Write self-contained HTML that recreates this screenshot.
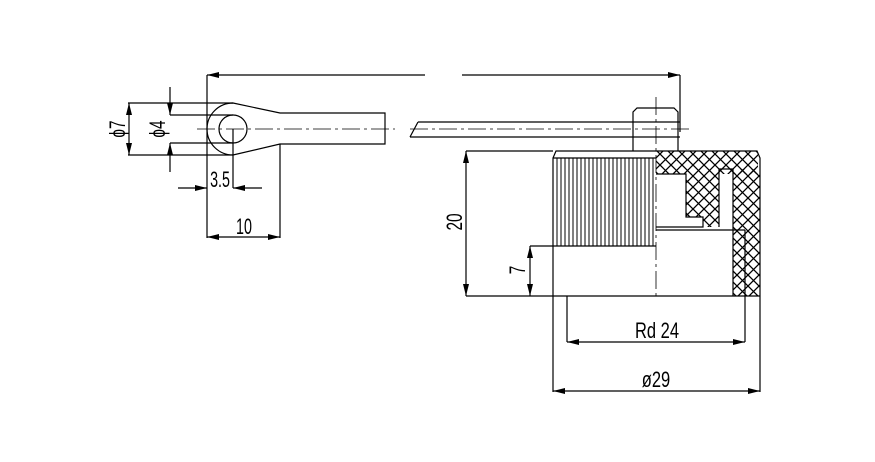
<!DOCTYPE html>
<html><head><meta charset="utf-8"><style>
html,body{margin:0;padding:0;background:#fff}
svg{display:block}
text{font-family:"Liberation Sans",sans-serif;font-size:22px;fill:#000}
</style></head><body>
<svg width="875" height="462" viewBox="0 0 875 462" xmlns="http://www.w3.org/2000/svg">
<defs>
<pattern id="h" width="11" height="11" patternUnits="userSpaceOnUse">
<path d="M0,0L11,11M11,0L0,11" stroke="#000" stroke-width="1.3"/>
</pattern>
<marker id="a" viewBox="0 0 12 6" refX="12" refY="3" markerWidth="12" markerHeight="6" orient="auto-start-reverse" markerUnits="userSpaceOnUse"><path d="M0,0L12,3L0,6z" fill="#000"/></marker>
</defs>
<g stroke="#000" stroke-width="1.2" fill="none">
<line x1="207" y1="75" x2="425" y2="75" marker-start="url(#a)"/>
<line x1="462" y1="75" x2="680" y2="75" marker-end="url(#a)"/>
<line x1="207" y1="75" x2="207" y2="238"/>
<line x1="680" y1="75" x2="680" y2="132"/>
<line x1="197" y1="129" x2="395" y2="129" stroke-dasharray="18,4,3,4" stroke-width="0.8"/>
<line x1="410" y1="129" x2="690" y2="129" stroke-dasharray="18,4,3,4" stroke-width="0.8"/>
<line x1="656" y1="97" x2="656" y2="300" stroke-dasharray="18,4,3,4" stroke-width="0.8"/>
<path d="M233,103 L280,113 L385,113 L385,144 L280,144 L233,155 A26,26 0 0 1 233,103 Z"/>
<circle cx="233" cy="129" r="14"/>
<line x1="233" y1="129" x2="233" y2="188"/>
<line x1="280" y1="144" x2="280" y2="238"/>
<line x1="128" y1="103" x2="233" y2="103"/>
<line x1="128" y1="155" x2="233" y2="155"/>
<line x1="129" y1="103" x2="129" y2="155" marker-start="url(#a)" marker-end="url(#a)"/>
<line x1="170" y1="115" x2="233" y2="115"/>
<line x1="170" y1="143" x2="233" y2="143"/>
<line x1="170" y1="87" x2="170" y2="115" marker-end="url(#a)"/>
<line x1="170" y1="172" x2="170" y2="143" marker-end="url(#a)"/>
<line x1="178" y1="188" x2="207" y2="188" marker-end="url(#a)"/>
<line x1="262" y1="188" x2="233" y2="188" marker-end="url(#a)"/>
<line x1="207" y1="237" x2="280" y2="237" marker-start="url(#a)" marker-end="url(#a)"/>
<path d="M418,122 L680,122 M410,137 L680,137 M418,122 L410,137"/>
<path d="M633,151 L633,112 L637,108 L674,108 L678,112 L678,151"/>
<rect x="656" y="151" width="102" height="23" fill="url(#h)" stroke="none"/>
<path d="M686,174 L719,174 L719,227 L703,227 L703,217 L686,217 Z" fill="url(#h)" stroke="none"/>
<rect x="733" y="169" width="27" height="127" fill="url(#h)" stroke="none"/>
<path d="M656,151 L757,151 L760,158 L760,296"/>
<path d="M656,174 L686,174 L686,217 L703,217 L703,227 L656,227"/>
<path d="M719,227 L719,169 L733,169 L733,296"/>
<line x1="656" y1="230" x2="745" y2="230"/>
<path d="M553,296 L553,158 L556,151 L656,151"/>
<line x1="553" y1="158" x2="656" y2="158"/>
<line x1="553" y1="246" x2="656" y2="246"/>
<line x1="466" y1="296" x2="760" y2="296"/>
<line x1="466" y1="151" x2="553" y2="151"/>
<line x1="530" y1="246" x2="553" y2="246"/>
<line x1="745" y1="230" x2="745" y2="342"/>
<line x1="567" y1="296" x2="567" y2="342"/>
<line x1="553" y1="296" x2="553" y2="392"/>
<line x1="760" y1="296" x2="760" y2="392"/>
<line x1="466" y1="151" x2="466" y2="296" marker-start="url(#a)" marker-end="url(#a)"/>
<line x1="530" y1="246" x2="530" y2="296" marker-start="url(#a)" marker-end="url(#a)"/>
<line x1="567" y1="342" x2="745" y2="342" marker-start="url(#a)" marker-end="url(#a)"/>
<line x1="553" y1="391" x2="760" y2="391" marker-start="url(#a)" marker-end="url(#a)"/>
</g>
<g stroke="#000" stroke-width="1">
<path d="M557,158V246M561,158V246M565,158V246M569,158V246M573,158V246M577,158V246M581,158V246M585,158V246M589,158V246M593,158V246M597,158V246M601,158V246M605,158V246M609,158V246M613,158V246M617,158V246M621,158V246M625,158V246M629,158V246M633,158V246M637,158V246M641,158V246M645,158V246M649,158V246M653,158V246"/>
</g>
<g>
<text transform="translate(125,129) rotate(-90) scale(0.7,1)" text-anchor="middle">ϕ7</text>
<text transform="translate(165,129) rotate(-90) scale(0.7,1)" text-anchor="middle">ϕ4</text>
<text transform="translate(220,187) scale(0.65,1)" text-anchor="middle">3.5</text>
<text transform="translate(244,234) scale(0.65,1)" text-anchor="middle">10</text>
<text transform="translate(462,222) rotate(-90) scale(0.7,1)" text-anchor="middle">20</text>
<text transform="translate(525,270) rotate(-90) scale(0.7,1)" text-anchor="middle">7</text>
<text transform="translate(657,338) scale(0.75,1)" text-anchor="middle">Rd 24</text>
<text transform="translate(656,387) scale(0.75,1)" text-anchor="middle">ø29</text>
</g>
</svg>
</body></html>
